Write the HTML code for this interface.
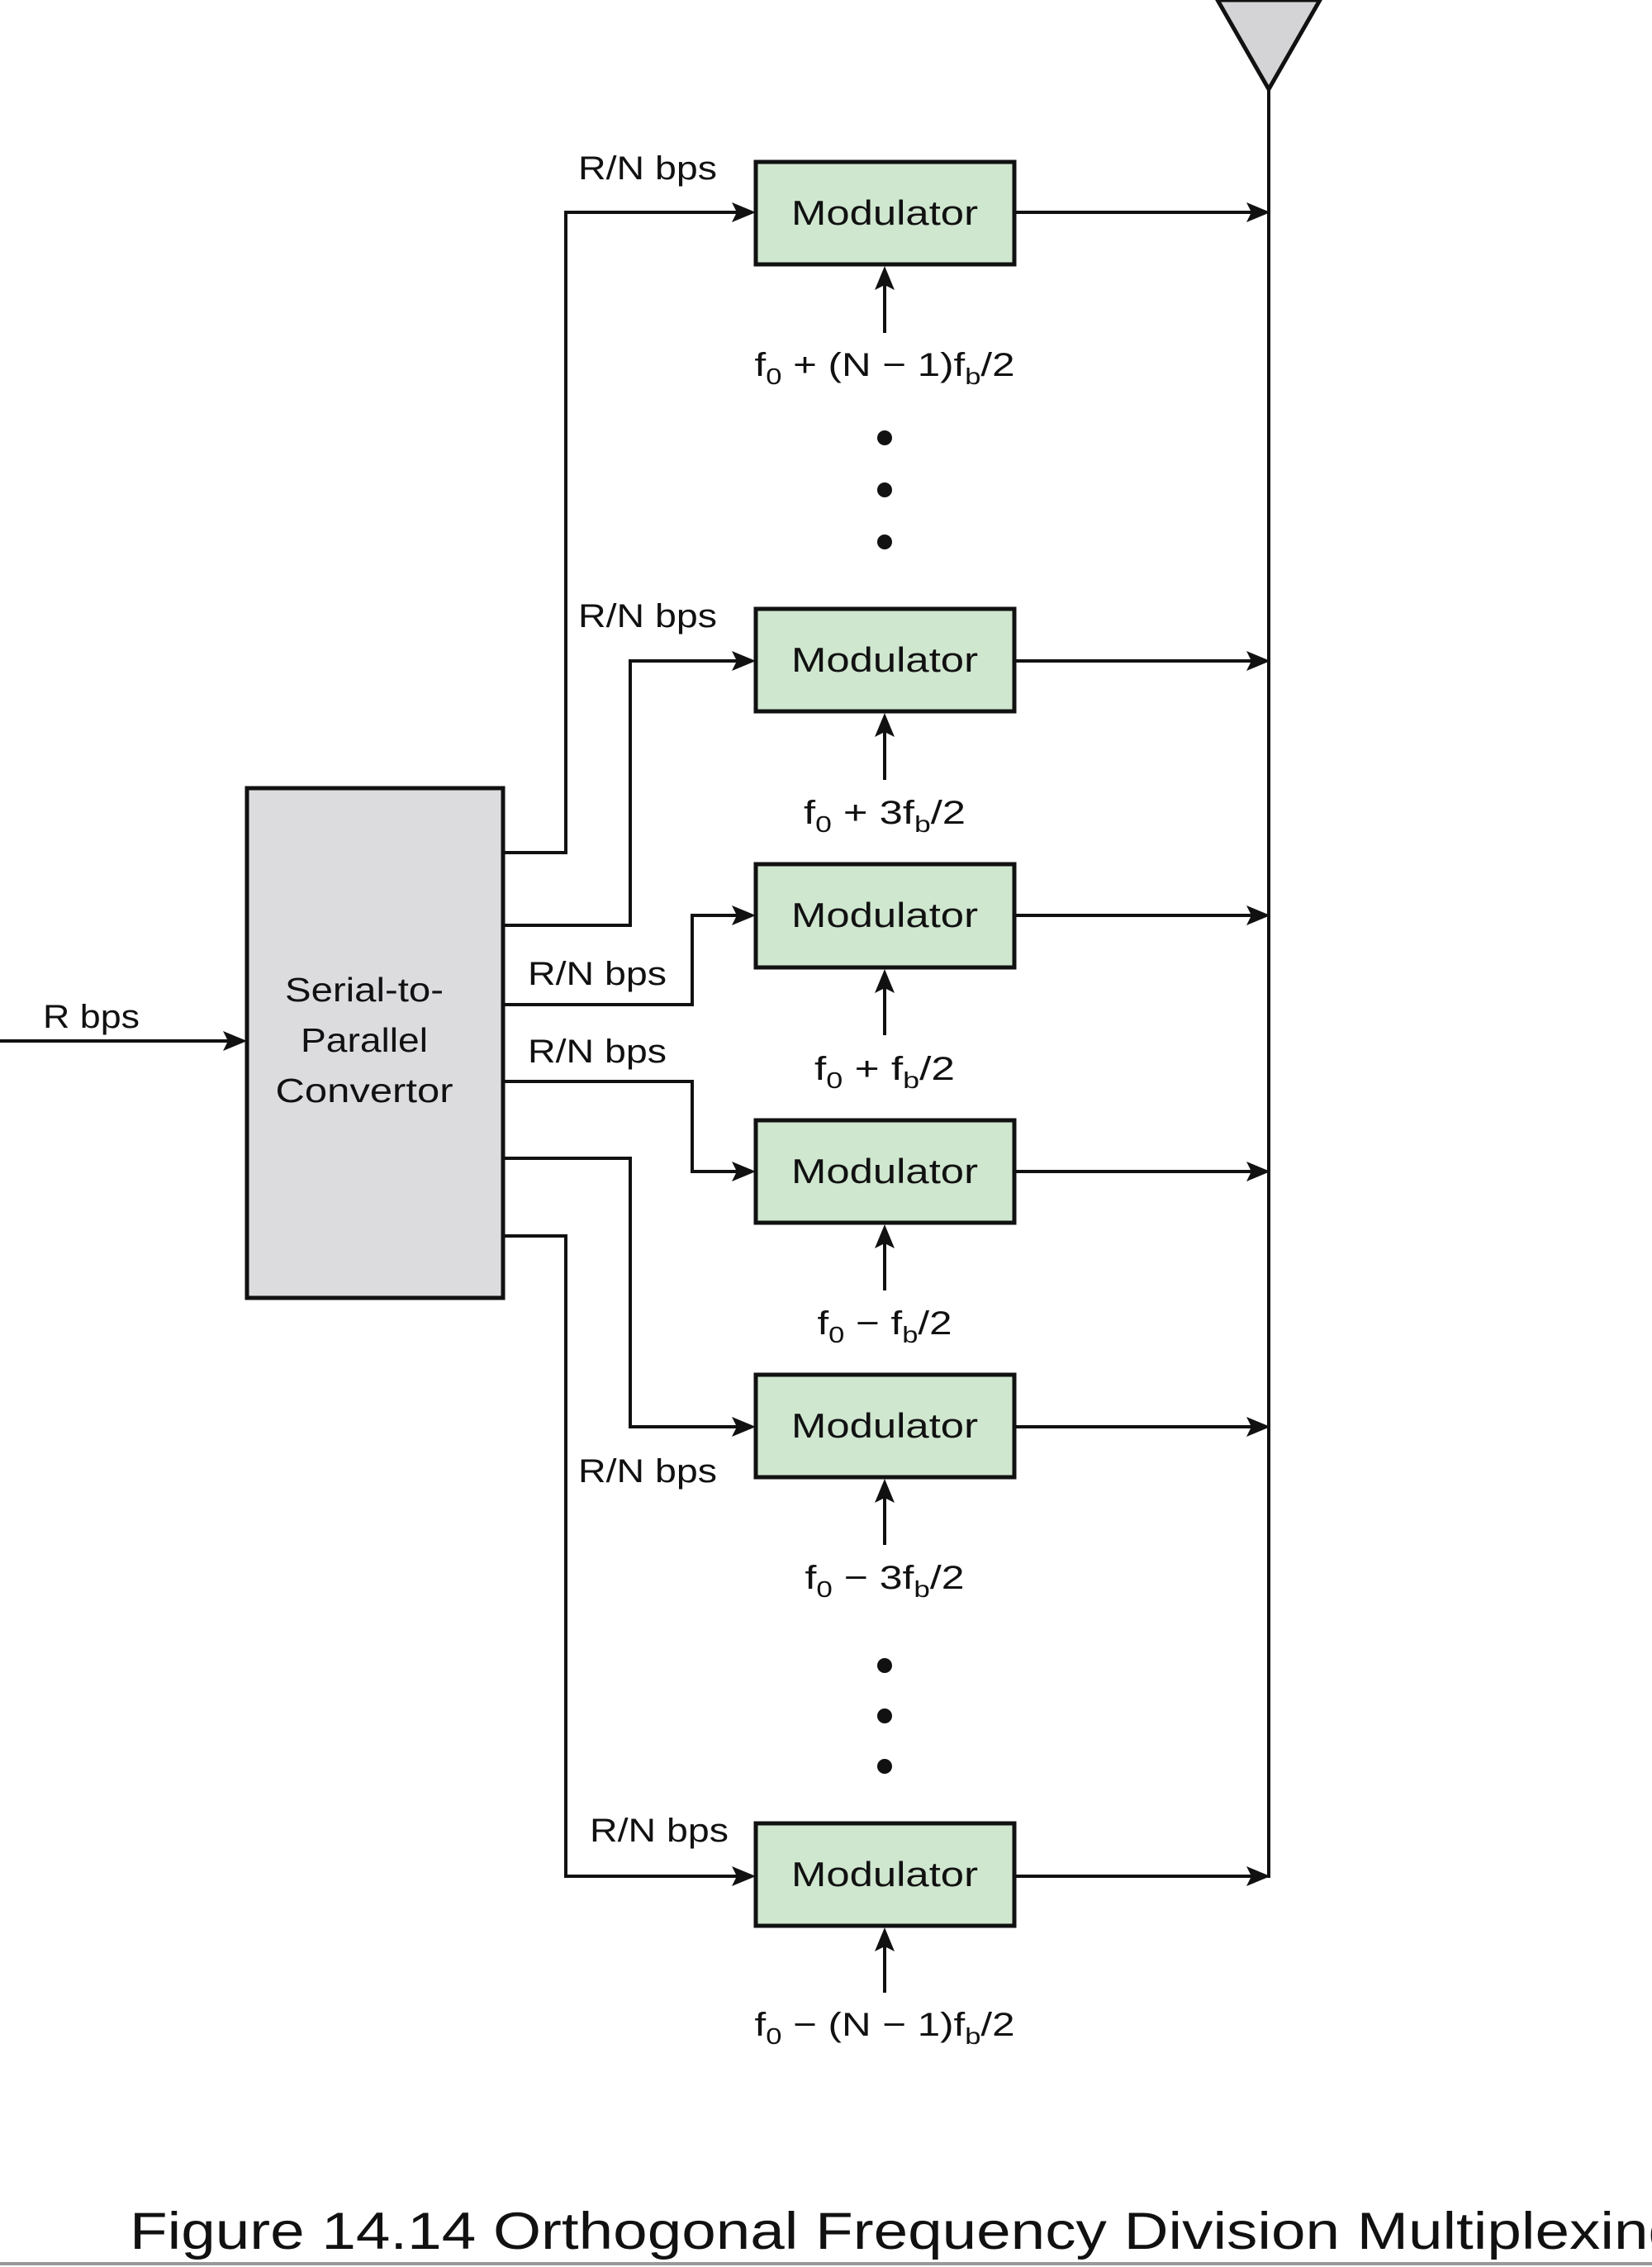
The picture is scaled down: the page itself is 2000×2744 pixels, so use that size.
<!DOCTYPE html>
<html><head><meta charset="utf-8"><style>
html,body{margin:0;padding:0;background:#fff;}
svg{display:block;}
text{font-family:"Liberation Sans",sans-serif;fill:#111;}
</style></head><body>
<svg width="2000" height="2744" viewBox="0 0 2000 2744" xmlns="http://www.w3.org/2000/svg">
<g stroke="#111" stroke-width="4" fill="none">
<line x1="1536" y1="100" x2="1536" y2="2273"/>
</g>
<polygon points="1474,0 1598,0 1536,108" fill="#d4d4d6" stroke="#111" stroke-width="5"/>

<rect x="299" y="954" width="310" height="617" fill="#dcdcdf" stroke="#111" stroke-width="5"/>
<text x="441" y="1212" font-size="41" text-anchor="middle" textLength="192" lengthAdjust="spacingAndGlyphs">Serial-to-</text>
<text x="441" y="1273" font-size="41" text-anchor="middle" textLength="154" lengthAdjust="spacingAndGlyphs">Parallel</text>
<text x="441" y="1334" font-size="41" text-anchor="middle" textLength="215" lengthAdjust="spacingAndGlyphs">Convertor</text>

<g stroke="#111" stroke-width="4" fill="none">
<line x1="0" y1="1260" x2="280" y2="1260"/>
<polyline points="609,1032 685,1032 685,257 895,257"/>
<polyline points="609,1120 763,1120 763,800 895,800"/>
<polyline points="609,1216 838,1216 838,1108 895,1108"/>
<polyline points="609,1309 838,1309 838,1418 895,1418"/>
<polyline points="609,1402 763,1402 763,1727 895,1727"/>
<polyline points="609,1496 685,1496 685,2271 895,2271"/>
<line x1="1228" y1="257" x2="1515" y2="257"/>
<line x1="1228" y1="800" x2="1515" y2="800"/>
<line x1="1228" y1="1108" x2="1515" y2="1108"/>
<line x1="1228" y1="1418" x2="1515" y2="1418"/>
<line x1="1228" y1="1727" x2="1515" y2="1727"/>
<line x1="1228" y1="2271" x2="1515" y2="2271"/>
<line x1="1071" y1="403" x2="1071" y2="340"/>
<line x1="1071" y1="944" x2="1071" y2="881"/>
<line x1="1071" y1="1253" x2="1071" y2="1191"/>
<line x1="1071" y1="1562" x2="1071" y2="1500"/>
<line x1="1071" y1="1870" x2="1071" y2="1808"/>
<line x1="1071" y1="2412" x2="1071" y2="2351"/>
</g>
<g fill="#111">
<polygon points="299,1260 270,1248 276,1260 270,1272"/>
<polygon points="915,257 886,245 892,257 886,269"/>
<polygon points="915,800 886,788 892,800 886,812"/>
<polygon points="915,1108 886,1096 892,1108 886,1120"/>
<polygon points="915,1418 886,1406 892,1418 886,1430"/>
<polygon points="915,1727 886,1715 892,1727 886,1739"/>
<polygon points="915,2271 886,2259 892,2271 886,2283"/>
<polygon points="1538,257 1509,245 1515,257 1509,269"/>
<polygon points="1538,800 1509,788 1515,800 1509,812"/>
<polygon points="1538,1108 1509,1096 1515,1108 1509,1120"/>
<polygon points="1538,1418 1509,1406 1515,1418 1509,1430"/>
<polygon points="1538,1727 1509,1715 1515,1727 1509,1739"/>
<polygon points="1538,2271 1509,2259 1515,2271 1509,2283"/>
<polygon points="1071,322 1059,351 1071,345 1083,351"/>
<polygon points="1071,863 1059,892 1071,886 1083,892"/>
<polygon points="1071,1173 1059,1202 1071,1196 1083,1202"/>
<polygon points="1071,1482 1059,1511 1071,1505 1083,1511"/>
<polygon points="1071,1790 1059,1819 1071,1813 1083,1819"/>
<polygon points="1071,2333 1059,2362 1071,2356 1083,2362"/>
<circle cx="1071" cy="530" r="9"/><circle cx="1071" cy="593" r="9"/><circle cx="1071" cy="656" r="9"/>
<circle cx="1071" cy="2016" r="9"/><circle cx="1071" cy="2077" r="9"/><circle cx="1071" cy="2138" r="9"/>
</g>

<g fill="#cfe6cf" stroke="#111" stroke-width="5">
<rect x="915" y="196" width="313" height="124"/>
<rect x="915" y="737" width="313" height="124"/>
<rect x="915" y="1046" width="313" height="125"/>
<rect x="915" y="1356" width="313" height="124"/>
<rect x="915" y="1664" width="313" height="124"/>
<rect x="915" y="2207" width="313" height="124"/>
</g>
<g font-size="42" text-anchor="middle">
<text x="1071" y="272" textLength="226" lengthAdjust="spacingAndGlyphs">Modulator</text>
<text x="1071" y="813" textLength="226" lengthAdjust="spacingAndGlyphs">Modulator</text>
<text x="1071" y="1122" textLength="226" lengthAdjust="spacingAndGlyphs">Modulator</text>
<text x="1071" y="1432" textLength="226" lengthAdjust="spacingAndGlyphs">Modulator</text>
<text x="1071" y="1740" textLength="226" lengthAdjust="spacingAndGlyphs">Modulator</text>
<text x="1071" y="2283" textLength="226" lengthAdjust="spacingAndGlyphs">Modulator</text>
</g>

<g font-size="40">
<text x="52" y="1244" textLength="117" lengthAdjust="spacingAndGlyphs">R bps</text>
<text x="700" y="217" textLength="168" lengthAdjust="spacingAndGlyphs">R/N bps</text>
<text x="700" y="759" textLength="168" lengthAdjust="spacingAndGlyphs">R/N bps</text>
<text x="639" y="1192" textLength="168" lengthAdjust="spacingAndGlyphs">R/N bps</text>
<text x="639" y="1286" textLength="168" lengthAdjust="spacingAndGlyphs">R/N bps</text>
<text x="700" y="1794" textLength="168" lengthAdjust="spacingAndGlyphs">R/N bps</text>
<text x="714" y="2229" textLength="168" lengthAdjust="spacingAndGlyphs">R/N bps</text>
</g>

<g font-size="40" text-anchor="middle">
<text x="1071" y="455" textLength="315" lengthAdjust="spacingAndGlyphs">f<tspan font-size="28" dy="10">0</tspan><tspan dy="-10"> + (N  − 1)f</tspan><tspan font-size="28" dy="10">b</tspan><tspan dy="-10">/2</tspan></text>
<text x="1071" y="997" textLength="196" lengthAdjust="spacingAndGlyphs">f<tspan font-size="28" dy="10">0</tspan><tspan dy="-10"> + 3f</tspan><tspan font-size="28" dy="10">b</tspan><tspan dy="-10">/2</tspan></text>
<text x="1071" y="1307" textLength="170" lengthAdjust="spacingAndGlyphs">f<tspan font-size="28" dy="10">0</tspan><tspan dy="-10"> + f</tspan><tspan font-size="28" dy="10">b</tspan><tspan dy="-10">/2</tspan></text>
<text x="1071" y="1615" textLength="163" lengthAdjust="spacingAndGlyphs">f<tspan font-size="28" dy="10">0</tspan><tspan dy="-10"> − f</tspan><tspan font-size="28" dy="10">b</tspan><tspan dy="-10">/2</tspan></text>
<text x="1071" y="1923" textLength="193" lengthAdjust="spacingAndGlyphs">f<tspan font-size="28" dy="10">0</tspan><tspan dy="-10"> − 3f</tspan><tspan font-size="28" dy="10">b</tspan><tspan dy="-10">/2</tspan></text>
<text x="1071" y="2464" textLength="315" lengthAdjust="spacingAndGlyphs">f<tspan font-size="28" dy="10">0</tspan><tspan dy="-10"> − (N  − 1)f</tspan><tspan font-size="28" dy="10">b</tspan><tspan dy="-10">/2</tspan></text>
</g>

<text x="157" y="2722" font-size="63" textLength="1880" lengthAdjust="spacingAndGlyphs">Figure 14.14  Orthogonal Frequency Division Multiplexing</text>
<line x1="0" y1="2740" x2="2000" y2="2740" stroke="#999" stroke-width="4"/>
</svg>
</body></html>
